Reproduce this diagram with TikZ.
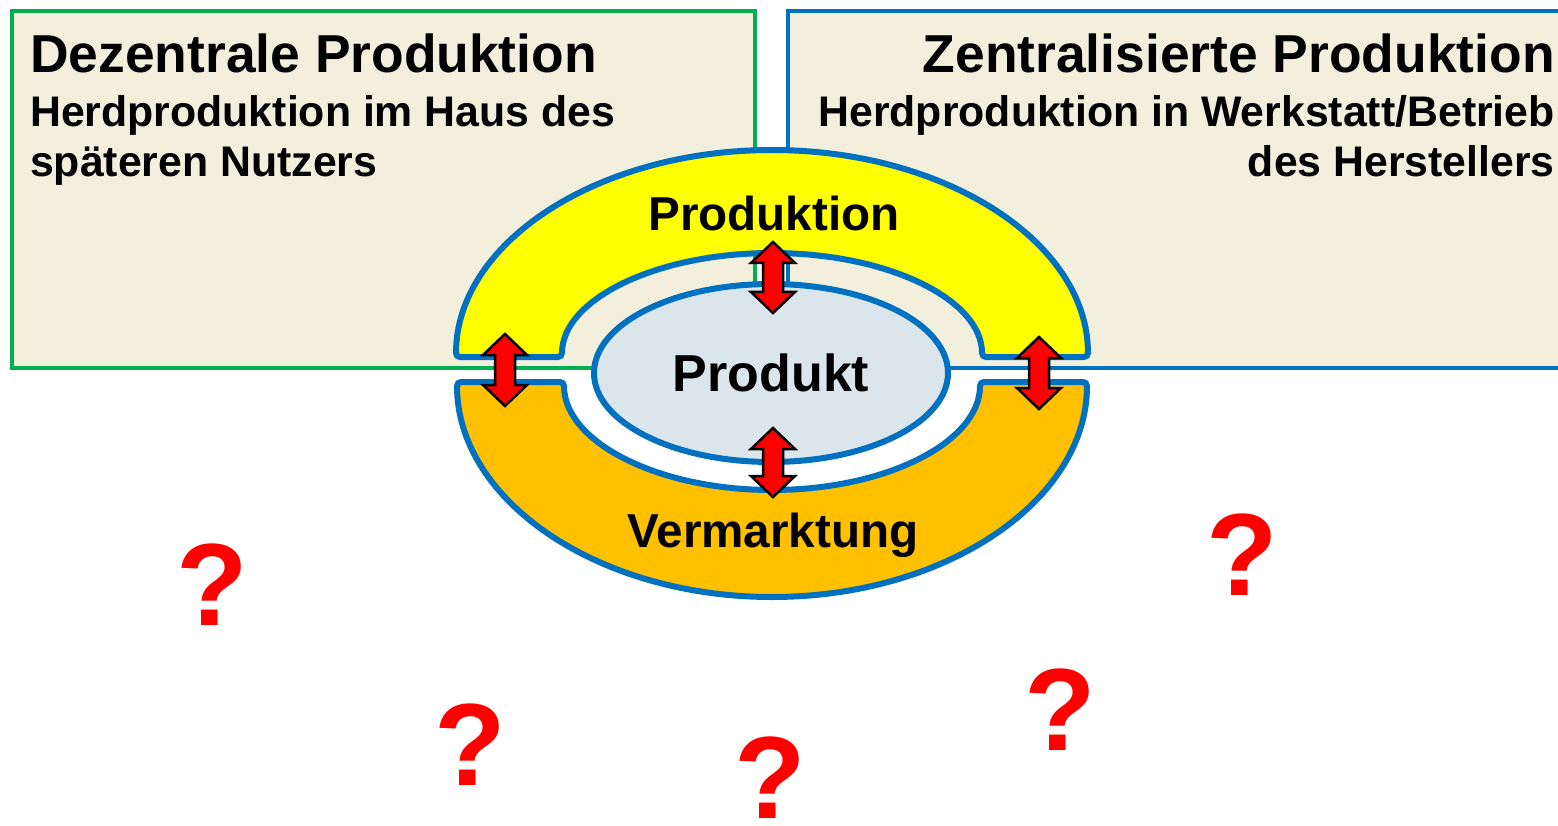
\documentclass[tikz,border=0pt]{standalone}
\usepackage{fontspec}
\setmainfont{Liberation Sans}
\usetikzlibrary{shapes.geometric}

\definecolor{beige}{RGB}{242,240,220}
\definecolor{ringblue}{RGB}{0,112,192}
\definecolor{boxgreen}{RGB}{0,176,80}
\definecolor{produktfill}{RGB}{219,229,236}
\definecolor{vermorange}{RGB}{255,192,0}
\definecolor{prodyellow}{RGB}{255,255,0}

\begin{document}
\begin{tikzpicture}[x=1pt, y=1pt,
    ring/.style={draw=ringblue, line width=6, rounded corners=4},
    dblarrow/.style={draw=black, line width=2.5, fill=red, line join=miter},
    titletext/.style={inner sep=0, font=\fontsize{53.4}{60}\selectfont\bfseries},
    subtext/.style={inner sep=0, font=\fontsize{42.8}{50}\selectfont\bfseries},
    ringtext/.style={inner sep=0, font=\fontsize{47.6}{52}\selectfont\bfseries},
    qmark/.style={inner sep=0, text=red, font=\fontsize{117}{117}\selectfont\bfseries}]

\useasboundingbox (0,0) rectangle (1558,-826);
\clip (0,0) rectangle (1558,-826);

% Two boxes behind everything
\draw[draw=boxgreen, line width=4, fill=beige] (12,-11) rectangle (755,-368);
\draw[draw=ringblue, line width=4, fill=beige] (788,-11) rectangle (1575,-368);

\node[titletext, anchor=base west] (dezTitle) at (30,-73) {Dezentrale Produktion};
\node[subtext, anchor=base west] (dezSubA) at (30,-127) {Herdproduktion im Haus des};
\node[subtext, anchor=base west] (dezSubB) at (30,-177) {späteren Nutzers};

\node[titletext, anchor=base east] (zenTitle) at (1555,-73) {Zentralisierte Produktion};
\node[subtext, anchor=base east] (zenSubA) at (1555,-127) {Herdproduktion in Werkstatt/Betrieb};
\node[subtext, anchor=base east] (zenSubB) at (1555,-177) {des Herstellers};

% Upper half ring (Produktion)
\draw[ring, fill=prodyellow] (456,-357) arc[start angle=180, end angle=0, x radius=316, y radius=207]
    -- (982,-357) arc[start angle=0, end angle=180, x radius=210, y radius=104] -- cycle;
% Lower half ring (Vermarktung)
\draw[ring, fill=vermorange] (457,-382) arc[start angle=180, end angle=360, x radius=315, y radius=215]
    -- (980,-382) arc[start angle=360, end angle=180, x radius=208, y radius=108] -- cycle;

\node[ringtext] (prodLabel) at (774,-213) {Produktion};
\node[ringtext, anchor=base] (vermLabel) at (773,-547) {Vermarktung};

% Product in the middle
\node[ellipse, draw=ringblue, line width=6, fill=produktfill, minimum width=354, minimum height=178,
      inner sep=0, font=\fontsize{52}{56}\selectfont\bfseries] (produkt) at (771,-373) {Produkt};

% Red double arrows
\foreach \name/\x/\ya/\yb in {left/505/334/406, right/1039/337/409, top/773/242/313, bottom/773/428/497} {
    \draw[dblarrow] (\x,-\ya) -- ++(22,-21) -- ++(-12,0) -- (\x+10,-\yb+21) -- ++(12,0)
        -- (\x,-\yb) -- ++(-22,21) -- ++(12,0) -- (\x-10,-\ya-21) -- ++(-12,0) -- cycle;
}

% Question marks
\foreach \n/\x/\y in {1/212/585, 2/470/745, 3/770/778, 4/1060/710, 5/1242/555} {
    \node[qmark] (q\n) at (\x,-\y) {?};
}

\end{tikzpicture}
\end{document}
